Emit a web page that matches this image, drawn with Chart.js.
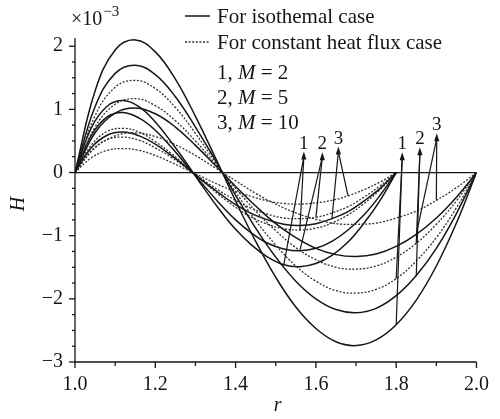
<!DOCTYPE html>
<html><head><meta charset="utf-8">
<script src="https://cdn.jsdelivr.net/npm/chart.js@4.4.0/dist/chart.umd.min.js"></script>
<style>html,body{margin:0;padding:0;background:#fff;}#wrap{width:500px;height:419px;position:relative;}</style>
</head><body><div id="wrap"><canvas id="c"></canvas></div>
<script>
// r grids (outer radius 2.0 and 1.8)
const r20 = [1.00,1.05,1.10,1.15,1.20,1.25,1.30,1.35,1.40,1.45,1.50,1.55,1.60,1.65,1.70,1.75,1.80,1.85,1.90,1.95,2.00];
const r18 = [1.00,1.04,1.08,1.12,1.16,1.20,1.24,1.28,1.32,1.36,1.40,1.44,1.48,1.52,1.56,1.60,1.64,1.68,1.72,1.76,1.80];

// H (x 1e-3), isothermal (solid) and constant heat flux (dotted)
const iso20_M2  = [0,1.29,1.94,2.10,1.91,1.48,0.89,0.23,-0.45,-1.09,-1.66,-2.13,-2.47,-2.68,-2.74,-2.65,-2.41,-2.02,-1.48,-0.80,0];
const iso20_M5  = [0,1.04,1.57,1.70,1.55,1.20,0.72,0.19,-0.36,-0.88,-1.34,-1.72,-2.00,-2.17,-2.22,-2.15,-1.95,-1.63,-1.20,-0.65,0];
const iso20_M10 = [0,0.63,0.94,1.02,0.93,0.72,0.43,0.11,-0.22,-0.53,-0.81,-1.03,-1.20,-1.30,-1.33,-1.29,-1.17,-0.98,-0.72,-0.39,0];
const flux20_M2  = [0,0.90,1.35,1.46,1.33,1.03,0.62,0.16,-0.31,-0.76,-1.15,-1.48,-1.72,-1.87,-1.91,-1.85,-1.68,-1.40,-1.03,-0.56,0];
const flux20_M5  = [0,0.72,1.08,1.17,1.06,0.82,0.50,0.13,-0.25,-0.61,-0.92,-1.19,-1.38,-1.50,-1.53,-1.48,-1.34,-1.12,-0.82,-0.45,0];
const flux20_M10 = [0,0.39,0.58,0.63,0.57,0.44,0.27,0.07,-0.13,-0.33,-0.50,-0.64,-0.74,-0.81,-0.82,-0.80,-0.72,-0.61,-0.44,-0.24,0];
const iso18_M2  = [0,0.70,1.05,1.14,1.04,0.80,0.48,0.13,-0.24,-0.59,-0.90,-1.15,-1.34,-1.46,-1.49,-1.44,-1.31,-1.10,-0.80,-0.44,0];
const iso18_M5  = [0,0.58,0.88,0.95,0.86,0.67,0.40,0.10,-0.20,-0.49,-0.75,-0.96,-1.12,-1.21,-1.24,-1.20,-1.09,-0.91,-0.67,-0.36,0];
const iso18_M10 = [0,0.39,0.59,0.64,0.58,0.45,0.27,0.07,-0.14,-0.33,-0.51,-0.65,-0.75,-0.82,-0.84,-0.81,-0.73,-0.62,-0.45,-0.25,0];
const flux18_M2  = [0,0.43,0.65,0.70,0.64,0.49,0.30,0.08,-0.15,-0.36,-0.55,-0.71,-0.82,-0.89,-0.91,-0.88,-0.80,-0.67,-0.49,-0.27,0];
const flux18_M5  = [0,0.34,0.52,0.56,0.51,0.39,0.24,0.06,-0.12,-0.29,-0.44,-0.57,-0.66,-0.72,-0.73,-0.71,-0.64,-0.54,-0.39,-0.21,0];
const flux18_M10 = [0,0.23,0.35,0.38,0.35,0.27,0.16,0.04,-0.08,-0.20,-0.30,-0.38,-0.45,-0.49,-0.50,-0.48,-0.44,-0.37,-0.27,-0.15,0];

// tick values and labels
const xTickValues = [1.0,1.1,1.2,1.3,1.4,1.5,1.6,1.7,1.8,1.9,2.0];
const xTickLabels = ['1.0','','1.2','','1.4','','1.6','','1.8','','2.0'];
const yTickValues = [-3,-2.75,-2.5,-2.25,-2,-1.75,-1.5,-1.25,-1,-0.75,-0.5,-0.25,0,0.25,0.5,0.75,1,1.25,1.5,1.75,2];
const yTickLabels = ['\u22123','','','','\u22122','','','','\u22121','','','','0','','','','1','','','','2'];

// legend texts
const legendTexts = ['For isothemal case','For constant heat flux case'];
const caseLabels = [['1, ','M',' = 2'],['2, ','M',' = 5'],['3, ','M',' = 10']];

// arrows: tip (r, H), label, targets [datasetIndex, pointIndex]
const arrowTips = [[1.570,0.30],[1.616,0.29],[1.656,0.38],[1.815,0.29],[1.859,0.37],[1.901,0.59]];
const arrowLabels = ['1','2','3','1','2','3'];
const arrowTargets = [[[6,13],[9,14]],[[7,14],[10,15]],[[8,16],[11,17]],[[0,16],[3,16]],[[1,17],[4,17]],[[2,17],[5,18]]];

const serif = "'Liberation Serif','Times New Roman',serif";
const INK = '#161616';

function pts(xs, ys){ return xs.map((x,i)=>({x:x, y:ys[i]})); }
function solid(xs, ys){ return {data:pts(xs,ys), borderColor:INK, borderWidth:1.5, pointRadius:0, tension:0.4, fill:false}; }
function dotted(xs, ys){ return {data:pts(xs,ys), borderColor:'#333', borderWidth:1.3, borderDash:[2,1.6], pointRadius:0, tension:0.4, fill:false}; }

const datasets = [
  solid(r20, iso20_M2), solid(r20, iso20_M5), solid(r20, iso20_M10),
  dotted(r20, flux20_M2), dotted(r20, flux20_M5), dotted(r20, flux20_M10),
  solid(r18, iso18_M2), solid(r18, iso18_M5), solid(r18, iso18_M10),
  dotted(r18, flux18_M2), dotted(r18, flux18_M5), dotted(r18, flux18_M10)
];

const overlay = {
  id:'overlay',
  afterDatasetsDraw(chart){
    const {ctx, chartArea:a, scales:{x, y}} = chart;
    ctx.save();
    ctx.strokeStyle = INK; ctx.fillStyle = INK; ctx.lineWidth = 1.3; ctx.setLineDash([]);
    const ln = (x1,y1,x2,y2)=>{ ctx.beginPath(); ctx.moveTo(x1,y1); ctx.lineTo(x2,y2); ctx.stroke(); };
    // axes
    ln(a.left, a.top, a.left, a.bottom + 0.5);
    ln(a.left - 0.5, a.bottom, a.right, a.bottom);
    // zero line
    ln(x.getPixelForValue(1), y.getPixelForValue(0), x.getPixelForValue(2), y.getPixelForValue(0));
    // y ticks
    yTickValues.forEach((v,i)=>{
      const py = y.getPixelForValue(v);
      ln(a.left - (yTickLabels[i] ? 6 : 3), py, a.left, py);
    });
    // x ticks
    xTickValues.forEach((v,i)=>{
      const px = x.getPixelForValue(v);
      ln(px, a.bottom, px, a.bottom + (xTickLabels[i] ? 6 : 4));
    });
    // axis titles
    ctx.font = "italic 20px " + serif;
    ctx.textAlign = 'center'; ctx.textBaseline = 'middle';
    ctx.fillText('r', (a.left + a.right)/2 + 2, 406);
    ctx.save(); ctx.translate(19, 204); ctx.rotate(-Math.PI/2); ctx.fillText('H', 0, 0); ctx.restore();
    // x10^-3
    ctx.textAlign = 'left'; ctx.textBaseline = 'alphabetic';
    ctx.font = "20px " + serif;
    ctx.fillText('\u00d710', 71, 25);
    const w10 = ctx.measureText('\u00d710').width;
    ctx.font = "15px " + serif;
    ctx.fillText('\u22123', 71 + w10 + 1, 16);
    // legend
    ctx.lineWidth = 1.5;
    ln(185, 16, 210, 16);
    ctx.save(); ctx.setLineDash([2,1.6]); ctx.lineWidth = 1.3; ctx.strokeStyle = '#333'; ln(185, 42, 210, 42); ctx.restore();
    ctx.font = "21px " + serif;
    ctx.fillText(legendTexts[0], 217, 23);
    ctx.fillText(legendTexts[1], 217, 49);
    const rowsY = [79, 104, 129];
    caseLabels.forEach((parts, i)=>{
      let cx = 217;
      parts.forEach((p, j)=>{
        ctx.font = (j === 1 ? "italic " : "") + "21px " + serif;
        ctx.fillText(p, cx, rowsY[i]);
        cx += ctx.measureText(p).width;
      });
    });
    // arrows
    ctx.lineWidth = 1.2;
    ctx.font = "19px " + serif; ctx.textAlign = 'center'; ctx.textBaseline = 'alphabetic';
    arrowTips.forEach((tip, i)=>{
      const tx = x.getPixelForValue(tip[0]), ty = y.getPixelForValue(tip[1]);
      arrowTargets[i].forEach(([di, pi])=>{
        const el = chart.getDatasetMeta(di).data[pi];
        ln(el.x, el.y, tx, ty + 3);
      });
      ctx.beginPath();
      ctx.moveTo(tx, ty - 2); ctx.lineTo(tx - 2.6, ty + 6); ctx.lineTo(tx + 2.6, ty + 6); ctx.closePath(); ctx.fill();
      ctx.fillText(arrowLabels[i], tx, ty - 5);
    });
    ctx.restore();
  }
};

new Chart(document.getElementById('c'), {
  type:'line',
  data:{datasets},
  plugins:[overlay],
  options:{
    responsive:true, maintainAspectRatio:false, animation:false,
    layout:{padding:{top:38, right:17, left:0, bottom:0}},
    plugins:{legend:{display:false}, tooltip:{enabled:false}},
    elements:{point:{radius:0}},
    scales:{
      x:{type:'linear', min:1, max:2,
         afterFit(s){ s.height = 57; },
         afterBuildTicks(s){ s.ticks = xTickValues.map(v=>({value:v})); },
         grid:{display:false, drawTicks:false}, border:{display:false},
         ticks:{autoSkip:false, maxRotation:0, padding:11, color:INK, font:{family:serif, size:20},
           callback(v, i){ return xTickLabels[i]; }}
      },
      y:{type:'linear', min:-3, max:2.13,
         afterFit(s){ s.width = 75; },
         afterBuildTicks(s){ s.ticks = yTickValues.map(v=>({value:v})); },
         grid:{display:false, drawTicks:false}, border:{display:false},
         ticks:{autoSkip:false, padding:12, color:INK, font:{family:serif, size:20},
           callback(v, i){ return yTickLabels[i]; }}
      }
    }
  }
});
</script>
</body></html>
